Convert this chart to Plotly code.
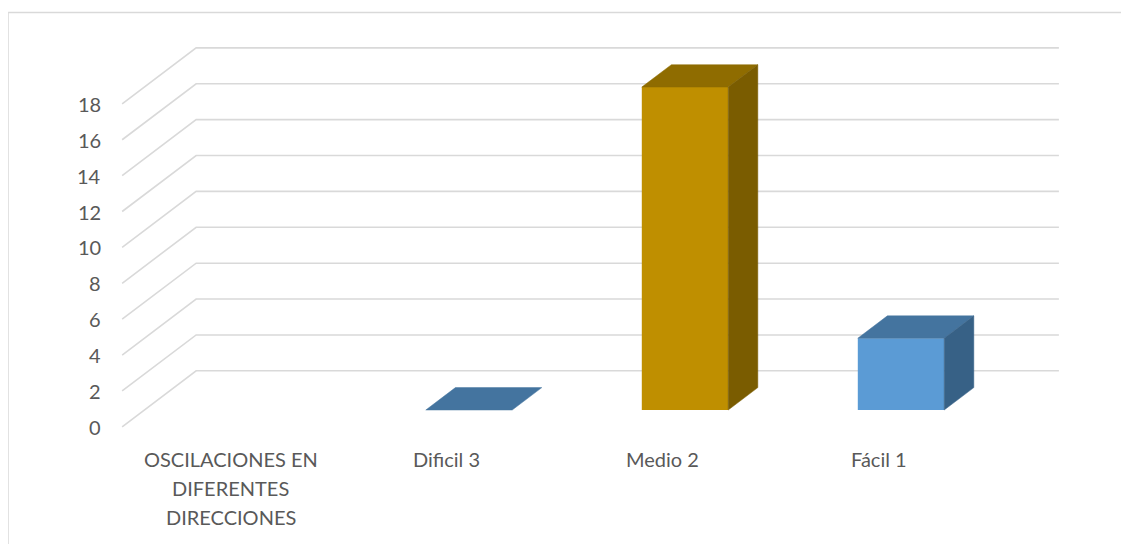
import plotly.graph_objects as go

# ---- data ----
categories = ["OSCILACIONES EN<br>DIFERENTES<br>DIRECCIONES", "Dificil 3", "Medio 2", "Fácil 1"]
values = [None, 0, 18, 4]
tick_values = [0, 2, 4, 6, 8, 10, 12, 14, 16, 18]

# ---- styles ----
front_colors = ["#5B9BD5", "#5B9BD5", "#BF8F00", "#5B9BD5"]
top_colors = ["#44749F", "#44749F", "#8F6C00", "#44749F"]
side_colors = ["#376186", "#376186", "#7A5C00", "#376186"]
text_color = "#595959"
grid_color = "#D9D9D9"
FONT = "Lato"

# page offset (browser body margin)
OFF = 8
W, H = 1129 - OFF, 544 - OFF
PX_X = 216.0     # pixels per category
PX_Y = 17.94     # pixels per value unit
X0_PX = 253.0    # pixel x of category 0 (window coords)
Y0_PX = 410.0    # pixel y of value 0 (window coords)

# 3D projection parameters (in axis units)
DEPTH_DX = 0.3426   # x shift for full depth
DEPTH_DY = 3.12     # y shift for full depth
BAR_D0, BAR_D1 = 0.3, 0.7
BAR_W = 0.4
WALL_X = -0.503
RIGHT_X = 3.731


def proj(x, v, d):
    return x + (d - BAR_D0) * DEPTH_DX, v + (d - BAR_D0) * DEPTH_DY


fig = go.Figure()

# front faces
xs = list(range(len(categories)))
fig.add_trace(go.Bar(x=xs, y=values, width=BAR_W, marker=dict(color=front_colors, line=dict(width=0)),
                     hoverinfo="skip", showlegend=False))

bdx = (BAR_D1 - BAR_D0) * DEPTH_DX
bdy = (BAR_D1 - BAR_D0) * DEPTH_DY
for i, v in enumerate(values):
    if v is None:
        continue
    x0, x1 = i - BAR_W / 2, i + BAR_W / 2
    # top face
    fig.add_trace(go.Scatter(x=[x0, x1, x1 + bdx, x0 + bdx, x0], y=[v, v, v + bdy, v + bdy, v],
                             fill="toself", fillcolor=top_colors[i], mode="lines",
                             line=dict(width=0.5, color=top_colors[i]), hoverinfo="skip", showlegend=False))
    if v > 0:
        fig.add_trace(go.Scatter(x=[x1, x1, x1 + bdx, x1 + bdx, x1], y=[0, v, v + bdy, bdy, 0],
                                 fill="toself", fillcolor=side_colors[i], mode="lines",
                                 line=dict(width=0.5, color=side_colors[i]), hoverinfo="skip", showlegend=False))

shapes = []
annotations = []
for t in tick_values:
    fx, fy = proj(WALL_X, t, 0)
    bx, by = proj(WALL_X, t, 1)
    shapes.append(dict(type="path", xref="x", yref="y", layer="below",
                       path=f"M{fx},{fy} L{bx},{by} L{RIGHT_X},{by}",
                       line=dict(color=grid_color, width=1.6)))
    annotations.append(dict(x=fx, y=fy, xref="x", yref="y", text=str(t), showarrow=False,
                            xanchor="right", yanchor="middle", xshift=-19,
                            font=dict(family=FONT, size=20, color=text_color)))

for i, c in enumerate(categories):
    lx, _ = proj(i, 0, 0)
    for k, line in enumerate(c.split("<br>")):
        annotations.append(dict(x=lx, y=-2.73, xref="x", yref="y", text=line, showarrow=False,
                                xanchor="center", yanchor="middle", yshift=-29 * k,
                                font=dict(family=FONT, size=20, color=text_color)))

# chart border (left and top)
bx_p = (7.5 - OFF + 0.6) / W
by_p = 1 - (12.5 - OFF) / H
shapes.append(dict(type="line", xref="paper", yref="paper", x0=bx_p, x1=bx_p,
                   y0=0, y1=by_p, line=dict(color=grid_color, width=1.3)))
shapes.append(dict(type="line", xref="paper", yref="paper", x0=bx_p, x1=1,
                   y0=by_p, y1=by_p, line=dict(color=grid_color, width=1.3)))

fig.update_layout(
    width=W, height=H,
    margin=dict(l=0, r=0, t=0, b=0),
    paper_bgcolor="white", plot_bgcolor="white",
    xaxis=dict(range=[(OFF - X0_PX) / PX_X, (1129 - X0_PX) / PX_X], visible=False, fixedrange=True),
    yaxis=dict(range=[(Y0_PX - 544) / PX_Y, (Y0_PX - OFF) / PX_Y], visible=False, fixedrange=True),
    shapes=shapes, annotations=annotations, showlegend=False,
)

fig.write_html("out.html")
